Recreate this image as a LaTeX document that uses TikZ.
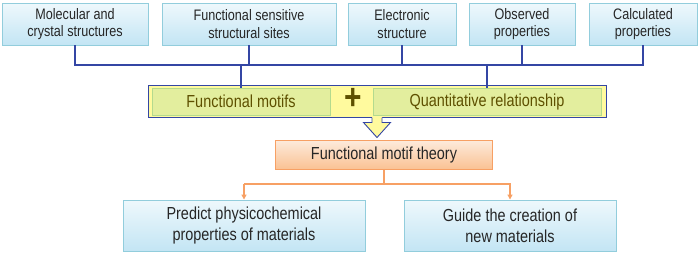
\documentclass[tikz,border=0pt]{standalone}
\usepackage{fontspec}
\setmainfont{Liberation Sans}[FakeStretch=0.83]
\usetikzlibrary{arrows.meta,positioning}
\definecolor{srcline}{HTML}{92CDDC}
\definecolor{srctop}{HTML}{EEF8FC}
\definecolor{srcbot}{HTML}{C3E5F4}
\definecolor{busblue}{HTML}{3446A4}
\definecolor{boxyel}{HTML}{FFFA9E}
\definecolor{partfill}{HTML}{E3EE9E}
\definecolor{partline}{HTML}{B4DA8E}
\definecolor{olive}{HTML}{5E5000}
\definecolor{orline}{HTML}{F7A064}
\definecolor{ortop}{HTML}{FDEBDC}
\definecolor{orbot}{HTML}{FAC294}

\begin{document}
\begin{tikzpicture}[
  x=1pt, y=-1pt,
  src/.style={draw=srcline, top color=srctop, bottom color=srcbot, line width=0.9pt,
    minimum height=42pt, inner sep=0pt, align=center, text=black!85,
    font=\fontsize{15.2}{17.3}\selectfont},
  part/.style={draw=partline, fill=partfill, line width=0.8pt, minimum height=27pt,
    inner sep=0pt, text=olive, font=\fontsize{17.4}{18}\selectfont},
  goal/.style={draw=srcline, top color=srctop, bottom color=srcbot, line width=0.9pt,
    minimum height=51pt, inner sep=0pt, align=center, text=black!85,
    font=\fontsize{17.4}{21}\selectfont},
  bus/.style={draw=busblue, line width=1.1pt},
  tree/.style={draw=orline, line width=1.2pt}
]
\useasboundingbox (0,0) rectangle (700,255);

% sources
\node[src, minimum width=146pt] (mol) at (75,24) {Molecular and\\crystal structures};
\node[src, minimum width=174pt] (site) at (249,24) {Functional sensitive\\structural sites};
\node[src, minimum width=108pt] (elec) at (402,24) {Electronic\\structure};
\node[src, minimum width=106pt] (obs) at (522,24) {Observed\\properties};
\node[src, minimum width=108pt] (calc) at (643,24) {Calculated\\properties};

% motifs + relationship
\node[draw=busblue, fill=boxyel, line width=1pt, minimum width=458pt, minimum height=32pt,
  inner sep=0pt] (core) at (377,101) {};
\node[part, minimum width=178pt] (motif) at (241,101.5) {Functional motifs};
\node[part, minimum width=228pt] (quant) at (487,101.5) {Quantitative relationship};
\node[text=olive, font=\fontsize{36}{36}\selectfont\bfseries, inner sep=0pt] (plus) at (353,98.5) {+};

\coordinate (split) at (0,65);
\draw[bus] (mol.south) |- (calc.south |- split) -- (calc.south);
\foreach \n in {site,elec,obs}
  \draw[bus] (\n.south) -- (\n.south |- split);
\draw[bus] (motif.north |- split) -- (motif.north);
\draw[bus] (quant.north |- split) -- (quant.north);

% block arrow
\fill[boxyel] (core.south) ++(-5,-0.5) -- ++(0,5.5) -- ++(-8.5,0) -- ++(13.5,15)
  -- ++(13.5,-15) -- ++(-8.5,0) -- ++(0,-5.5) -- cycle;
\draw[draw=busblue, line width=0.9pt, line join=miter] (core.south) ++(-5,0) -- ++(0,5)
  -- ++(-8.5,0) -- ++(13.5,15) -- ++(13.5,-15) -- ++(-8.5,0) -- ++(0,-5);

% theory and goals
\node[draw=orline, top color=ortop, bottom color=orbot, line width=0.9pt,
  minimum width=217pt, minimum height=29pt, inner sep=0pt, text=black!85,
  font=\fontsize{17.4}{18}\selectfont] (theory) at (384,154.5) {Functional motif theory};
\node[goal, minimum width=242pt] (pred) at (244,225.5) {Predict physicochemical\\properties of materials};
\node[goal, minimum width=212pt] (guide) at (510,225.5) {Guide the creation of\\new materials};

\coordinate (fork) at (0,184);
\draw[tree] (theory.south) -- (theory.south |- fork);
\draw[tree, -{Triangle[length=5pt,width=5pt]}] (pred.north |- fork) -- (pred.north);
\draw[tree, -{Triangle[length=5pt,width=5pt]}] (pred.north |- fork) -- (guide.north |- fork) -- (guide.north);
\end{tikzpicture}
\end{document}
